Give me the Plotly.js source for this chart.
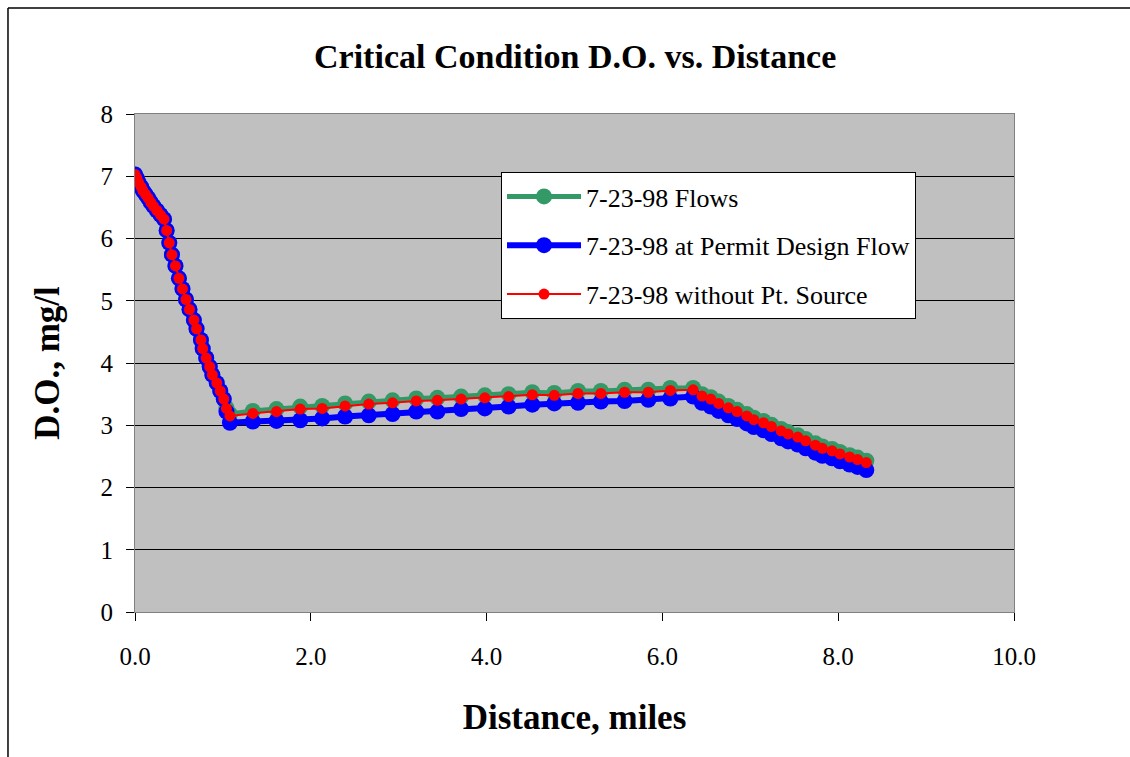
<!DOCTYPE html>
<html>
<head>
<meta charset="utf-8">
<script src="https://cdn.plot.ly/plotly-3.0.1.min.js"></script>
<style>html,body{margin:0;padding:0;background:#fff;}#chart{width:1130px;height:757px;}</style>
</head>
<body>
<div id="chart"></div>
<script>
// Distance (miles), shared by all three series
const distance = [0, 0.02, 0.04, 0.07, 0.09, 0.12, 0.15, 0.18, 0.21, 0.25, 0.29, 0.33,
  0.36, 0.39, 0.42, 0.46, 0.50, 0.54, 0.58, 0.62, 0.67, 0.70, 0.75, 0.77, 0.81, 0.85, 0.88, 0.93, 0.97, 1.01, 1.04, 1.08,
  1.34, 1.61, 1.88, 2.13, 2.39, 2.66, 2.93, 3.20, 3.44, 3.71, 3.98, 4.25, 4.52, 4.77, 5.04, 5.30, 5.57, 5.84, 6.09, 6.35,
  6.45, 6.55, 6.64, 6.75, 6.85, 6.96, 7.04, 7.15, 7.24, 7.35, 7.43, 7.54, 7.63, 7.74, 7.82, 7.93, 8.02, 8.13, 8.22, 8.32];

// 7-23-98 without Pt. Source
const doNoSource = [7.03, 6.97, 6.90, 6.83, 6.77, 6.71, 6.65, 6.58, 6.52, 6.45, 6.38, 6.31,
  6.13, 5.93, 5.74, 5.56, 5.36, 5.19, 5.02, 4.86, 4.69, 4.55, 4.37, 4.23, 4.08, 3.94, 3.81, 3.68, 3.55, 3.42, 3.27, 3.15,
  3.19, 3.22, 3.26, 3.27, 3.31, 3.34, 3.36, 3.39, 3.40, 3.42, 3.44, 3.46, 3.49, 3.48, 3.51, 3.51, 3.53, 3.53, 3.56, 3.57,
  3.47, 3.42, 3.35, 3.28, 3.22, 3.15, 3.09, 3.04, 2.98, 2.91, 2.86, 2.81, 2.75, 2.68, 2.63, 2.59, 2.54, 2.49, 2.45, 2.40];

// 7-23-98 Flows
const doFlows = [7.03, 6.97, 6.90, 6.83, 6.77, 6.71, 6.65, 6.58, 6.52, 6.45, 6.38, 6.31,
  6.13, 5.93, 5.74, 5.56, 5.36, 5.19, 5.02, 4.86, 4.69, 4.55, 4.37, 4.23, 4.08, 3.94, 3.81, 3.68, 3.55, 3.42, 3.28, 3.18,
  3.23, 3.26, 3.30, 3.31, 3.35, 3.38, 3.40, 3.43, 3.44, 3.46, 3.48, 3.50, 3.53, 3.52, 3.55, 3.55, 3.57, 3.57, 3.60, 3.60,
  3.50, 3.45, 3.38, 3.31, 3.25, 3.18, 3.12, 3.07, 3.01, 2.94, 2.89, 2.84, 2.78, 2.71, 2.66, 2.62, 2.57, 2.52, 2.48, 2.43];

// 7-23-98 at Permit Design Flow
const doPermit = [7.03, 6.97, 6.90, 6.83, 6.77, 6.71, 6.65, 6.58, 6.52, 6.45, 6.38, 6.31,
  6.13, 5.93, 5.74, 5.56, 5.36, 5.19, 5.02, 4.86, 4.69, 4.55, 4.37, 4.23, 4.08, 3.94, 3.81, 3.68, 3.55, 3.42, 3.22, 3.04,
  3.06, 3.07, 3.08, 3.11, 3.14, 3.16, 3.18, 3.22, 3.22, 3.26, 3.27, 3.30, 3.33, 3.35, 3.36, 3.38, 3.39, 3.41, 3.43, 3.46,
  3.36, 3.30, 3.23, 3.16, 3.10, 3.03, 2.97, 2.92, 2.86, 2.79, 2.74, 2.69, 2.63, 2.56, 2.51, 2.47, 2.42, 2.37, 2.33, 2.28];

const seriesNames = ['7-23-98 Flows', '7-23-98 at Permit Design Flow', '7-23-98 without Pt. Source'];
const xTicks = [0, 2, 4, 6, 8, 10];
const xTickText = ['0.0', '2.0', '4.0', '6.0', '8.0', '10.0'];
const yTicks = [0, 1, 2, 3, 4, 5, 6, 7, 8];

const serif = 'Liberation Serif, Times New Roman, serif';

const traces = [
  {x: distance, y: doFlows, name: seriesNames[0], legendgroup: 'g1', type: 'scatter', mode: 'lines+markers',
   line: {color: '#339966', width: 5}, marker: {color: '#339966', size: 16}},
  {x: distance, y: doPermit, name: seriesNames[1], legendgroup: 'g2', type: 'scatter', mode: 'lines+markers',
   line: {color: '#0000FF', width: 6}, marker: {color: '#0000FF', size: 16}},
  {x: distance, y: doNoSource, name: seriesNames[2], legendgroup: 'g3', type: 'scatter', mode: 'lines+markers',
   line: {color: '#FF0000', width: 2}, marker: {color: '#FF0000', size: 11}}
];

const layout = {
  width: 1130, height: 757,
  paper_bgcolor: '#FFFFFF', plot_bgcolor: '#C0C0C0',
  margin: {l: 135, r: 116, t: 114, b: 145},
  font: {family: serif, color: '#000', size: 25},
  title: {text: '<b>Critical Condition D.O. vs. Distance</b>', x: 0.509, xanchor: 'center', y: 0.926, yanchor: 'middle',
    font: {family: serif, size: 34, color: '#000'}},
  xaxis: {range: [0, 10], tickvals: xTicks, ticktext: xTickText, showgrid: false, zeroline: false,
    ticks: 'outside', ticklen: 8, tickcolor: '#000', showline: true, linecolor: '#808080', linewidth: 1, mirror: true,
    tickfont: {family: serif, size: 25}, ticklabelstandoff: 14, fixedrange: true,
    title: {text: '<b>Distance, miles</b>', font: {family: serif, size: 35}, standoff: 35}},
  yaxis: {range: [0, 8], tickvals: yTicks, showgrid: true, gridcolor: '#000', gridwidth: 1, zeroline: false,
    ticks: 'outside', ticklen: 8, tickcolor: '#000', showline: true, linecolor: '#808080', linewidth: 1, mirror: true,
    tickfont: {family: serif, size: 25}, ticklabelstandoff: 8, fixedrange: true,
    title: {text: '<b>D.O., mg/l</b>', font: {family: serif, size: 35}, standoff: 30}},
  showlegend: true,
  legend: {x: 0.4164, y: 0.8835, xanchor: 'left', yanchor: 'top', bgcolor: '#FFFFFF', bordercolor: '#000', borderwidth: 1,
    font: {family: serif, size: 26}, itemwidth: 74, tracegroupgap: 12},
  shapes: [
    {type: 'line', xref: 'paper', yref: 'paper', x0: -0.1445, x1: 1.15, y0: 1.2129, y1: 1.2129, line: {color: '#000', width: 1.5}},
    {type: 'line', xref: 'paper', yref: 'paper', x0: -0.1445, x1: -0.1445, y0: 1.2129, y1: -0.3, line: {color: '#000', width: 1.5}}
  ]
};

Plotly.newPlot('chart', traces, layout, {displayModeBar: false, staticPlot: true});
</script>
</body>
</html>
